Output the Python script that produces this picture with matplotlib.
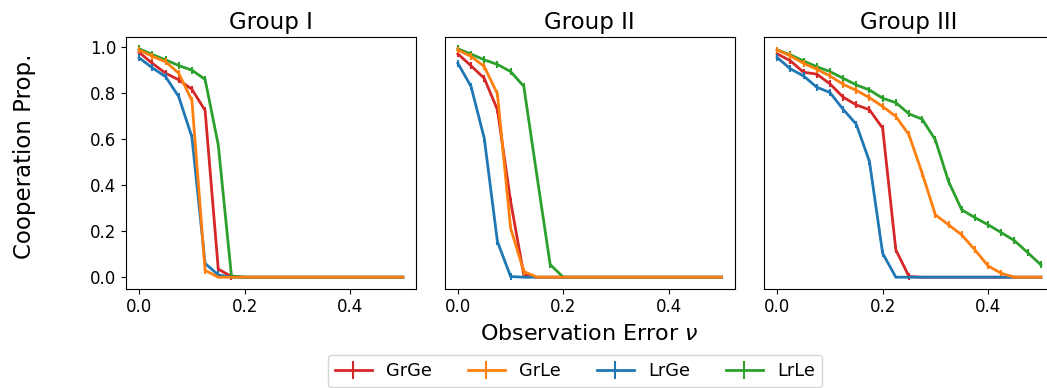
import numpy as np
import matplotlib
matplotlib.use("Agg")
import matplotlib.pyplot as plt

# observation error values (x axis)
nu = [0.0, 0.025, 0.05, 0.075, 0.1, 0.125, 0.15, 0.175, 0.2, 0.225, 0.25,
      0.275, 0.3, 0.325, 0.35, 0.375, 0.4, 0.425, 0.45, 0.475, 0.5]

groups = ["Group I", "Group II", "Group III"]
series_names = ["GrGe", "GrLe", "LrGe", "LrLe"]
colores = ["tab:red", "tab:orange", "tab:blue", "tab:green"]

# Group I
g1_GrGe = [0.977, 0.93, 0.887, 0.858, 0.817, 0.725, 0.035, 0.003] + [0.0] * 13
g1_GrLe = [0.988, 0.96, 0.937, 0.887, 0.768, 0.03, 0.0] + [0.0] * 14
g1_LrGe = [0.954, 0.91, 0.872, 0.785, 0.609, 0.06, 0.01, 0.0] + [0.0] * 13
g1_LrLe = [0.993, 0.968, 0.945, 0.92, 0.90, 0.86, 0.575, 0.005] + [0.0] * 13

# Group II
g2_GrGe = [0.971, 0.919, 0.865, 0.728, 0.33, 0.01, 0.0] + [0.0] * 14
g2_GrLe = [0.988, 0.96, 0.916, 0.797, 0.213, 0.025, 0.0] + [0.0] * 14
g2_LrGe = [0.93, 0.829, 0.604, 0.155, 0.003, 0.0] + [0.0] * 15
g2_LrLe = [0.993, 0.97, 0.945, 0.925, 0.894, 0.83, 0.44, 0.055, 0.0] + [0.0] * 12

# Group III
g3_GrGe = [0.971, 0.941, 0.891, 0.883, 0.841, 0.783, 0.749, 0.728, 0.648,
           0.119, 0.003] + [0.0] * 10
g3_GrLe = [0.988, 0.962, 0.93, 0.904, 0.875, 0.839, 0.812, 0.781, 0.742,
           0.699, 0.619, 0.452, 0.271, 0.228, 0.184, 0.119, 0.049, 0.017,
           0.0, 0.0, 0.0]
g3_LrGe = [0.955, 0.906, 0.875, 0.826, 0.803, 0.73, 0.665, 0.503, 0.104,
           0.0] + [0.0] * 11
g3_LrLe = [0.988, 0.967, 0.94, 0.915, 0.894, 0.865, 0.836, 0.814, 0.778,
           0.759, 0.71, 0.687, 0.597, 0.416, 0.293, 0.259, 0.228, 0.194,
           0.159, 0.107, 0.054]

datos = [
    [g1_GrGe, g1_GrLe, g1_LrGe, g1_LrLe],
    [g2_GrGe, g2_GrLe, g2_LrGe, g2_LrLe],
    [g3_GrGe, g3_GrLe, g3_LrGe, g3_LrLe],
]

W, H = 1047, 388
fig = plt.figure(figsize=(W / 100, H / 100), dpi=100)

# axes positions in pixels (left, top, width, height)
lefts = [126, 444.7, 764]
top, ancho, alto = 37.3, 290, 251.4
orden_z = [2.0, 2.3, 2.2, 2.1]

ejes = []
for i, grupo in enumerate(groups):
    ax = fig.add_axes([lefts[i] / W, 1 - (top + alto) / H, ancho / W, alto / H])
    for j, nombre in enumerate(series_names):
        y = np.array(datos[i][j])
        err = np.where(y > 0.002, 0.015, 0.0)
        ax.errorbar(nu, y, yerr=err, color=colores[j], lw=2, elinewidth=1.5,
                    label=nombre, zorder=orden_z[j])
    ax.set_title(grupo, fontsize=16.5)
    ax.set_xlim(-0.025, 0.525)
    ax.set_ylim(-0.05, 1.043)
    ax.set_xticks([0.0, 0.2, 0.4])
    ax.set_yticks([0.0, 0.2, 0.4, 0.6, 0.8, 1.0])
    ax.tick_params(labelsize=12)
    if i > 0:
        ax.set_yticklabels([])
        ax.tick_params(axis="y", length=0)
    ejes.append(ax)

fig.text(25 / W, 1 - 156 / H, "Cooperation Prop.", rotation=90,
         ha="center", va="center", fontsize=16.5)
fig.text(589 / W, 1 - 334 / H, r"Observation Error $\nu$",
         ha="center", va="center", fontsize=16)

handles, labels = ejes[0].get_legend_handles_labels()
fig.legend(handles, labels, ncol=4, loc="center",
           bbox_to_anchor=(575 / W, 1 - 371 / H), fontsize=12.8,
           handlelength=2.1)

fig.savefig("out.png", dpi=100)
